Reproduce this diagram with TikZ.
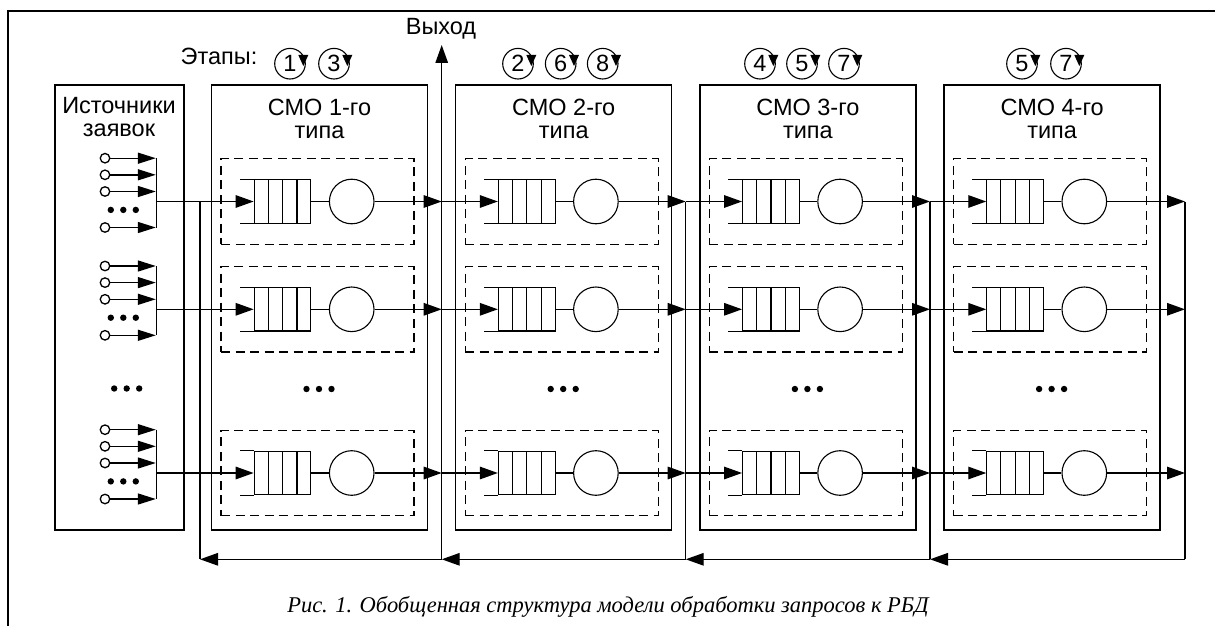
\documentclass[tikz,border=0pt]{standalone}
\usepackage{fontspec}
\setmainfont{Liberation Sans}
\newfontfamily\captionserif{Liberation Serif}
\usetikzlibrary{arrows.meta,calc}
\newcommand\lblfont{\fontsize{23.5}{23.5}\selectfont}
\tikzset{
  arr/.style={-{Triangle[length=18pt,width=12.5pt]}},
  srcarr/.style={-{Triangle[length=18pt,width=11pt]}},
  unitbox/.style={draw,rectangle,minimum width=216pt,minimum height=445pt,inner sep=0pt},
  srcbox/.style={draw,rectangle,minimum width=129pt,minimum height=445pt,inner sep=0pt},
  chanbox/.style={draw,rectangle,dash pattern=on 9pt off 5.5pt,minimum width=193pt,minimum height=85.5pt,inner sep=0pt},
  thinline/.style={line width=1.1pt},
  queuebox/.style={draw,rectangle,thinline,minimum width=56.7pt,minimum height=43.4pt,inner sep=0pt},
  server/.style={draw,circle,thinline,minimum size=44.6pt,inner sep=0pt},
  stage/.style={draw,circle,thinline,minimum size=30.6pt,inner sep=0pt,font=\lblfont},
  src/.style={draw,circle,line width=1.3pt,fill=white,minimum size=9.5pt,inner sep=0pt},
  lbl/.style={inner sep=0pt,anchor=base,font=\lblfont},
}
\begin{document}
\begin{tikzpicture}[x=1pt,y=-1pt,line width=1.4pt]
\useasboundingbox (0,0) rectangle (1215,626);

% outer frame
\draw[line width=2pt] (7.5,626) -- (7.5,11) -- (1215,11);

% junction points of the vertical buses
\foreach \k/\bx in {0/200,1/441.7,2/685.7,3/930,4/1185}{
  \foreach \j/\ry in {1/201.5,2/309.3,3/473}{
    \coordinate (b\k-\j) at (\bx,\ry);
  }
  \coordinate (f\k) at (\bx,559.3);
}
\coordinate (exit) at (441.7,45);

% request sources
\node[srcbox] (srcbox) at (119.5,307.5) {};
\node[lbl] (srcta) at (119,113.3) {Источники};
\node[lbl] (srctb) at (119,136.7) {заявок};
\foreach \j/\ry in {1/201.5,2/309.3,3/473}{
  \coordinate (g\j) at (156.5,\ry);
  \coordinate (gt\j) at (156.5,\ry-43.3);
  \coordinate (gb\j) at (156.5,\ry+26);
  \draw (gt\j) -- (gb\j);
  \foreach \n/\o in {1/-43.3,2/-26.7,3/-10,4/26}{
    \coordinate (e\j-\n) at (155.8,\ry+\o);
    \node[src] (c\j-\n) at (105,\ry+\o) {};
    \draw[srcarr] (c\j-\n) -- (e\j-\n);
  }
  \foreach \d in {-12.5,0,12.5}
    \fill (123.3+\d,\ry+8.4) circle (3.2);
}
\foreach \d in {-12.5,0,12.5}
  \fill (126.7+\d,388.5) circle (3.2);

% queueing systems
\foreach \i/\L in {1/211.5,2/455.7,3/699.9,4/944.1}{
  \node[unitbox] (u\i) at (\L+108,307.5) {};
  \node[lbl] (ta\i) at (\L+108,115) {СМО \i-го};
  \node[lbl] (tb\i) at (\L+108,138.3) {типа};
  \foreach \d in {-12.5,0,12.5}
    \fill (\L+107.5+\d,389) circle (3.2);
  \foreach \j/\ry in {1/201.5,2/309.3,3/473}{
    \node[chanbox] (d\i-\j) at (\L+106,\ry) {};
    \node[queuebox] (q\i-\j) at (\L+71.05,\ry) {};
    \node[server] (s\i-\j) at (\L+140.2,\ry) {};
    \foreach \k in {1,2,3}
      \draw[thinline] ($(q\i-\j.north west)!\k/4!(q\i-\j.north east)$) -- ($(q\i-\j.south west)!\k/4!(q\i-\j.south east)$);
    \draw[thinline] (q\i-\j.north west) -- ++(-14,0);
    \draw[thinline] (q\i-\j.south west) -- ++(-14,0);
    \draw[thinline] (q\i-\j) -- (s\i-\j);
    \draw[arr] (s\i-\j) -- (b\i-\j);
  }
}

% inputs of the queues
\foreach \j in {1,2,3}{
  \draw[arr] (g\j) -- (q1-\j);
  \draw[arr] (b1-\j) -- (q2-\j);
  \draw[arr] (b2-\j) -- (q3-\j);
  \draw[arr] (b3-\j) -- (q4-\j);
}

% buses and feedback line
\draw (b0-1) -- (f0);
\draw (b2-1) -- (f2);
\draw (b3-1) -- (f3);
\draw (b4-1) -- (f4);
\draw[arr] (f1) -- (exit);
\node[lbl] (exitlbl) at (441,35) {Выход};
\draw[arr] (f4) -- (f3);
\draw[arr] (f3) -- (f2);
\draw[arr] (f2) -- (f1);
\draw[arr] (f1) -- (f0);

% processing stages
\node[lbl,anchor=base west] (stages) at (180,64.5) {Этапы:};
\foreach \n/\cx/\lab in {1/290/1,2/334/3,3/518/2,4/560.7/6,5/602.7/8,6/760/4,7/802/5,8/844/7,9/1022/5,10/1066/7}{
  \node[stage] (st\n) at (\cx,63.7) {\lab};
  \fill ($(st\n)+(8.3,-8.7)$) -- ($(st\n)+(18.3,-8.7)$) -- ($(st\n)+(13.3,2.3)$) -- cycle;
}

% caption
\node[inner sep=0pt,anchor=base,font=\captionserif\itshape\fontsize{22.5}{22.5}\selectfont] (cap) at (608,612)
  {Рис. 1. Обобщенная структура модели обработки запросов к РБД};
\end{tikzpicture}
\end{document}
